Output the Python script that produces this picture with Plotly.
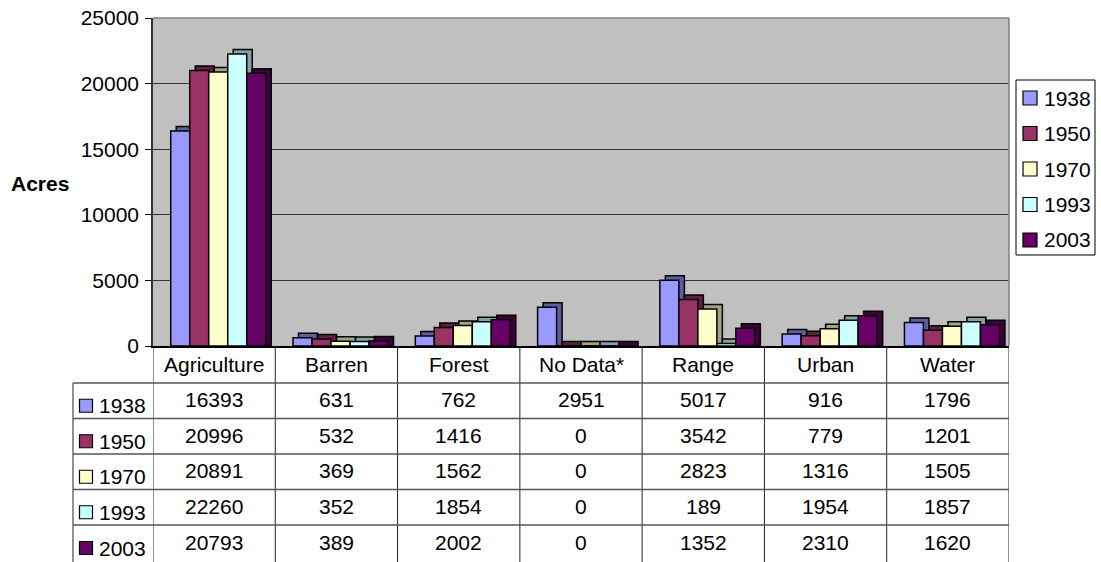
import plotly.graph_objects as go

# Land-cover acreage by class and survey year
categories = ["Agriculture", "Barren", "Forest", "No Data*", "Range", "Urban", "Water"]
years = ["1938", "1950", "1970", "1993", "2003"]
acres_1938 = [16393, 631, 762, 2951, 5017, 916, 1796]
acres_1950 = [20996, 532, 1416, 0, 3542, 779, 1201]
acres_1970 = [20891, 369, 1562, 0, 2823, 1316, 1505]
acres_1993 = [22260, 352, 1854, 0, 189, 1954, 1857]
acres_2003 = [20793, 389, 2002, 0, 1352, 2310, 1620]
series = [acres_1938, acres_1950, acres_1970, acres_1993, acres_2003]

face_colors = ["#9999FF", "#993366", "#FFFFCC", "#CCFFFF", "#660066"]
side_colors = ["#5E5E9E", "#5E1F40", "#A3A382", "#82A3A3", "#3D003D"]

# Page geometry (pixels)
W, H = 1101, 562
L, R, T, B = 153, 1009, 18, 346
PW, PH = R - L, B - T
YMAX = 25000


def py(p):
    return (B - p) / PH


def px(p):
    return (p - L) / PW


col_w = PW / len(categories)
bar_w = 19.0 / col_w
group_start = -0.355
depth_x = 5.5 / col_w
depth_y = 4.5 / PH * YMAX

fig = go.Figure()

# Shaded depth faces behind each column
for i, vals in enumerate(series):
    fig.add_trace(go.Bar(
        x=list(range(len(categories))),
        y=[v + depth_y for v in vals],
        base=0,
        width=bar_w,
        offset=group_start + i * bar_w + depth_x,
        marker=dict(color=side_colors[i], line=dict(color="black", width=1.5)),
        showlegend=False, hoverinfo="skip",
    ))

# Front faces
for i, vals in enumerate(series):
    fig.add_trace(go.Bar(
        x=list(range(len(categories))),
        y=vals,
        width=bar_w,
        offset=group_start + i * bar_w,
        name=years[i],
        showlegend=False,
        marker=dict(color=face_colors[i], line=dict(color="black", width=1.5)),
    ))

FONT = "Arial, Liberation Sans, sans-serif"
FS = 21
shapes = []
annotations = []


def label(x, y, text, xref="paper", xanchor="center"):
    annotations.append(dict(x=x, y=y, xref=xref, yref="paper", text=text, showarrow=False,
                            xanchor=xanchor, yanchor="middle",
                            font=dict(family=FONT, size=FS, color="black")))


# Plot-area frame
shapes.append(dict(type="line", xref="paper", yref="paper", x0=0, x1=1, y0=1, y1=1,
                   line=dict(color="#808080", width=1.5)))
shapes.append(dict(type="line", xref="paper", yref="paper", x0=1, x1=1, y0=0, y1=1,
                   line=dict(color="#808080", width=1.5)))

# Data table grid
row_lines = [383, 418.5, 454, 489.5, 525]
grid_col = "#555555"
for k in range(len(categories) + 1):
    shapes.append(dict(type="line", xref="x", yref="paper", x0=k - 0.5, x1=k - 0.5,
                       y0=py(B), y1=py(H + 5), line=dict(color="#222222", width=1)))
shapes.append(dict(type="line", xref="paper", yref="paper", x0=px(73), x1=px(73),
                   y0=py(row_lines[0]), y1=py(H + 5), line=dict(color="#222222", width=1)))
for r in row_lines:
    shapes.append(dict(type="line", xref="paper", yref="paper", x0=px(73), x1=1,
                       y0=py(r), y1=py(r), line=dict(color=grid_col, width=1.5)))

# Header row: category names
for k, name in enumerate(categories):
    label(k, py((B + row_lines[0]) / 2), name, xref="x")

# Value rows with legend keys
row_tops = row_lines + [H - 1]
for i, vals in enumerate(series):
    yc = (row_tops[i] + row_tops[i + 1]) / 2
    for k, v in enumerate(vals):
        label(k, py(yc - 1), str(v), xref="x")
    key_c = yc + 5
    shapes.append(dict(type="rect", xref="paper", yref="paper",
                       x0=px(79.5), x1=px(92.5), y0=py(key_c + 6.5), y1=py(key_c - 6.5),
                       fillcolor=face_colors[i], line=dict(color="black", width=1.2)))
    label(px(97), py(key_c), years[i], xanchor="left")

# Legend box at the right
leg_top, leg_bot, leg_l, leg_r = 80, 255, 1016, 1095
shapes.append(dict(type="rect", xref="paper", yref="paper",
                   x0=px(leg_l), x1=px(leg_r), y0=py(leg_bot), y1=py(leg_top),
                   fillcolor="white", line=dict(color="black", width=1)))
leg_step = 35.5
for i, yr in enumerate(years):
    yc = 98 + i * leg_step
    shapes.append(dict(type="rect", xref="paper", yref="paper",
                       x0=px(1023), x1=px(1037), y0=py(yc + 7), y1=py(yc - 7),
                       fillcolor=face_colors[i], line=dict(color="black", width=1.2)))
    label(px(1042), py(yc), yr, xanchor="left")

# Axis title
annotations.append(dict(x=px(40), y=py(183), xref="paper", yref="paper", text="<b>Acres</b>",
                        showarrow=False, xanchor="center", yanchor="middle",
                        font=dict(family=FONT, size=FS, color="black")))

fig.update_layout(
    width=W, height=H,
    margin=dict(l=L, r=W - R, t=T, b=H - B, pad=0, autoexpand=False),
    paper_bgcolor="white",
    plot_bgcolor="#C0C0C0",
    barmode="overlay",
    showlegend=False,
    font=dict(family=FONT, size=FS, color="black"),
    xaxis=dict(range=[-0.5, len(categories) - 0.5], showticklabels=False, ticks="",
               showgrid=False, zeroline=False, showline=True, linecolor="black", linewidth=1.5,
               fixedrange=True, automargin=False),
    yaxis=dict(range=[0, YMAX], dtick=5000, tick0=0, tickformat="d",
               showgrid=True, gridcolor="#333333",
               gridwidth=1, zeroline=False, showline=True, linecolor="#333333", linewidth=1.5,
               ticks="outside", ticklen=6, tickcolor="black", tickwidth=1.2,
               ticklabelstandoff=2, tickfont=dict(family=FONT, size=FS, color="black"),
               fixedrange=True, automargin=False),
    shapes=shapes,
    annotations=annotations,
)

fig.write_html("out.html")
